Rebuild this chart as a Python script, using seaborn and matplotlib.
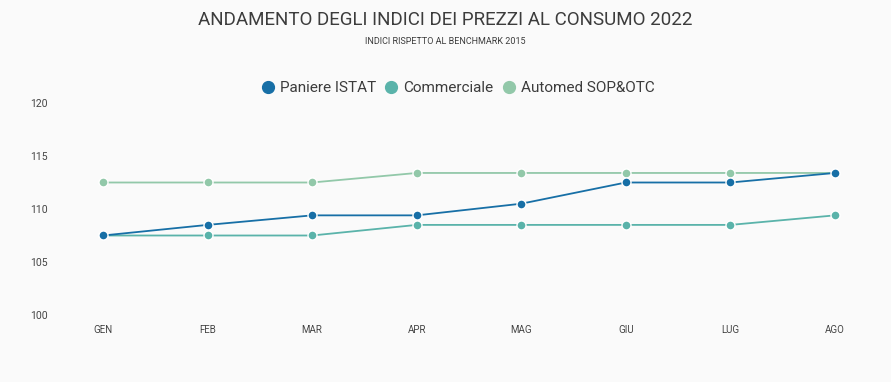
import matplotlib
matplotlib.use("Agg")
import matplotlib.pyplot as plt
from matplotlib.lines import Line2D
import seaborn as sns
import pandas as pd

mesi = ["GEN", "FEB", "MAR", "APR", "MAG", "GIU", "LUG", "AGO"]
paniere_istat = [107.5, 108.5, 109.4, 109.4, 110.5, 112.5, 112.5, 113.4]
commerciale = [107.5, 107.5, 107.5, 108.5, 108.5, 108.5, 108.5, 109.4]
automed = [112.5, 112.5, 112.5, 113.4, 113.4, 113.4, 113.4, 113.4]
serie = ["Paniere ISTAT", "Commerciale", "Automed SOP&OTC"]
colori = ["#176fa6", "#5ab3aa", "#92c8a9"]

df = pd.concat([
    pd.DataFrame({"mese": mesi, "valore": v, "serie": s})
    for s, v in zip(serie, [paniere_istat, commerciale, automed])
])
df["x"] = df["mese"].map({m: i for i, m in enumerate(mesi)})

sns.set_theme(style="white")
plt.rcParams["font.family"] = ["Roboto", "DejaVu Sans"]

fig = plt.figure(figsize=(8.91, 3.82), dpi=100)
fig.patch.set_facecolor("#fafafa")
ax = fig.add_axes([103 / 891, 67 / 382, 732 / 891, 212 / 382])
ax.set_facecolor("#fafafa")

# draw back to front so Paniere sits on top
for s, c in reversed(list(zip(serie, colori))):
    sns.lineplot(data=df[df["serie"] == s], x="x", y="valore", color=c,
                 marker="o", markersize=6.5, markeredgecolor="white",
                 markeredgewidth=1, linewidth=1.3, ax=ax, clip_on=False,
                 legend=False)

ax.set_xlim(0, 7)
ax.set_ylim(100, 120)
ax.set_xticks(range(len(mesi)))
ax.set_xticklabels(mesi)
ax.set_yticks([100, 105, 110, 115, 120])
ax.tick_params(axis="x", length=0, pad=7, labelsize=7, labelcolor="#444444")
ax.tick_params(axis="y", length=0, pad=40, labelsize=7.5, labelcolor="#444444")
ax.set_xlabel("")
ax.set_ylabel("")
for sp in ax.spines.values():
    sp.set_visible(False)

fig.text(0.5, 1 - 20 / 382, "ANDAMENTO DEGLI INDICI DEI PREZZI AL CONSUMO 2022",
         ha="center", va="center", fontsize=13.5, color="#3c3c3c")
fig.text(0.5, 1 - 41 / 382, "INDICI RISPETTO AL BENCHMARK 2015",
         ha="center", va="center", fontsize=6.5, color="#3c3c3c")

handles = [Line2D([], [], linestyle="none", marker="o", markersize=8.5,
                  markerfacecolor=c, markeredgecolor=c) for c in colori]
leg = fig.legend(handles, serie, loc="center",
                 bbox_to_anchor=(0.5 + 12 / 891, 1 - 88 / 382),
                 ncol=3, frameon=False, fontsize=11, handletextpad=0.3,
                 columnspacing=0.5, handlelength=1.0)
for t in leg.get_texts():
    t.set_color("#3c3c3c")

fig.savefig("out.png", dpi=100, facecolor=fig.get_facecolor())
